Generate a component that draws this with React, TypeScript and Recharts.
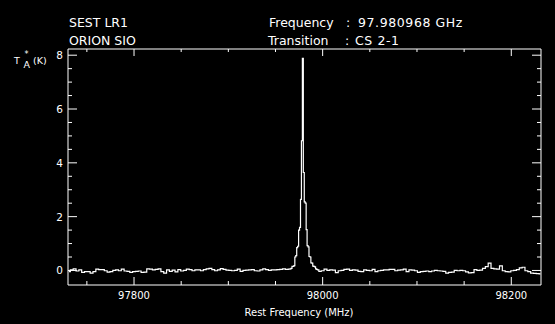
import { Line, LineChart, XAxis, YAxis } from "recharts"

// channel layout: coarse baseline either side, 1 MHz channels across the line
const leftStart = 97731
const coreStart = 97966
const rightStart = 97997
const baseWidth = 3
const coreWidth = 1

// antenna temperature (K)
const leftBaseline = [
  -0.04, 0.02, 0.06, -0.02, 0.02, -0.07, -0.04, -0.04, -0.1, -0.04,
  0.05, 0.03, 0.03, -0.01, -0.06, -0.04, 0.0, 0.02, -0.01, 0.05,
  -0.02, -0.03, -0.07, -0.04, -0.03, -0.02, -0.07, -0.06, 0.06, 0.05,
  0.02, 0.04, 0.06, -0.04, -0.1, 0.02, -0.03, 0.01, -0.05, 0.03,
  -0.02, 0.0, 0.05, 0.03, -0.01, 0.02, 0.02, -0.01, 0.03, 0.06,
  0.08, 0.03, -0.01, 0.02, 0.07, 0.04, 0.01, 0.0, -0.01, 0.0,
  0.05, -0.03, 0.0, 0.01, 0.02, 0.03, -0.01, -0.02, 0.02, 0.06,
  0.03, 0.0, 0.02, 0.02, 0.03, 0.04, 0.06, 0.04, 0.05,
]

const lineCore = [
  0.06, 0.08, 0.15, 0.15, 0.18, 0.5, 0.55, 0.85, 0.9, 1.5,
  1.6, 2.64, 4.82, 7.88, 3.64, 2.55, 2.5, 1.52, 0.92, 0.88,
  0.52, 0.5, 0.28, 0.27, 0.16, 0.15, 0.13, 0.06, 0.04, 0.02,
]

const rightBaseline = [
  -0.03, -0.01, 0.05, 0.0, 0.02, 0.01, -0.08, -0.01, 0.0, 0.04,
  0.05, 0.0, 0.02, 0.01, -0.03, -0.04, 0.02, 0.0, -0.01, 0.04,
  -0.04, -0.01, 0.0, 0.02, 0.02, 0.04, 0.04, -0.01, 0.01, 0.02,
  0.05, -0.04, 0.02, 0.01, -0.01, -0.07, -0.04, -0.03, -0.02, -0.04,
  -0.02, 0.0, -0.01, -0.02, -0.03, -0.1, -0.07, -0.06, 0.0, -0.01,
  0.0, -0.01, -0.05, -0.09, -0.08, 0.03, 0.0, 0.01, 0.08, 0.14,
  0.27, 0.08, 0.06, 0.05, 0.17, -0.01, -0.04, -0.05, -0.01, 0.0,
  0.03, 0.1, 0.12, -0.01, -0.04, -0.1, -0.11, -0.12, -0.13,
]

const xTicks = [97750, 97800, 97850, 97900, 97950, 98000, 98050, 98100, 98150, 98200]
const xLabelled = [97800, 98000, 98200]
const yTicks = [0, 0.5, 1, 1.5, 2, 2.5, 3, 3.5, 4, 4.5, 5, 5.5, 6, 6.5, 7, 7.5, 8]
const yLabelled = [0, 2, 4, 6, 8]

const data = [
  ...leftBaseline.map((t, i) => ({ freq: leftStart + i * baseWidth, temp: t })),
  ...lineCore.map((t, i) => ({ freq: coreStart + i * coreWidth, temp: t })),
  ...rightBaseline.map((t, i) => ({ freq: rightStart + i * baseWidth, temp: t })),
]

const white = "#ffffff"
const font = "DejaVu Sans"

function BottomTick(props: any) {
  const { x, y, payload } = props
  const major = xLabelled.includes(payload.value)
  return (
    <g>
      <line x1={x} x2={x} y1={y} y2={y - (major ? 8 : 4)} stroke={white} />
      {major && (
        <text x={x} y={y + 14} textAnchor="middle" fill={white} fontSize={10} fontFamily={font}>
          {payload.value}
        </text>
      )}
    </g>
  )
}

function TopTick(props: any) {
  const { x, y, payload } = props
  const major = xLabelled.includes(payload.value)
  return <line x1={x} x2={x} y1={y} y2={y + (major ? 7 : 3)} stroke={white} />
}

function LeftTick(props: any) {
  const { x, y, payload } = props
  const major = yLabelled.includes(payload.value)
  return (
    <g>
      <line x1={x} x2={x + (major ? 9 : 4)} y1={y} y2={y} stroke={white} />
      {major && (
        <text x={x - 5} y={y + 4} textAnchor="end" fill={white} fontSize={10.5} fontFamily={font}>
          {payload.value}
        </text>
      )}
    </g>
  )
}

function RightTick(props: any) {
  const { x, y, payload } = props
  const major = yLabelled.includes(payload.value)
  return <line x1={x} x2={x - (major ? 9 : 4)} y1={y} y2={y} stroke={white} />
}

export default function App() {
  return (
    <div style={{ position: "absolute", left: 0, top: 0, width: 555, height: 324, background: "#000" }}>
      <LineChart
        width={555}
        height={324}
        data={data}
        margin={{ top: 48, right: 13, bottom: 38, left: 67 }}
      >
        <XAxis
          xAxisId="b"
          dataKey="freq"
          type="number"
          domain={[97730, 98231.5]}
          allowDataOverflow
          ticks={xTicks}
          interval={0}
          height={1}
          tickSize={0}
          tickMargin={0}
          tickLine={false}
          axisLine={{ stroke: white }}
          tick={<BottomTick />}
        />
        <XAxis
          xAxisId="t"
          orientation="top"
          dataKey="freq"
          type="number"
          domain={[97730, 98231.5]}
          allowDataOverflow
          ticks={xTicks}
          interval={0}
          height={1}
          tickSize={0}
          tickMargin={0}
          tickLine={false}
          axisLine={{ stroke: white }}
          tick={<TopTick />}
        />
        <YAxis
          yAxisId="l"
          type="number"
          domain={[-0.54, 8.23]}
          allowDataOverflow
          ticks={yTicks}
          interval={0}
          width={1}
          tickSize={0}
          tickMargin={0}
          tickLine={false}
          axisLine={{ stroke: white }}
          tick={<LeftTick />}
        />
        <YAxis
          yAxisId="r"
          orientation="right"
          type="number"
          domain={[-0.54, 8.23]}
          allowDataOverflow
          ticks={yTicks}
          interval={0}
          width={1}
          tickSize={0}
          tickMargin={0}
          tickLine={false}
          axisLine={{ stroke: white }}
          tick={<RightTick />}
        />
        <Line
          xAxisId="b"
          yAxisId="l"
          dataKey="temp"
          type="step"
          stroke={white}
          strokeWidth={1.2}
          dot={false}
          activeDot={false}
          isAnimationActive={false}
        />
      </LineChart>
      <svg
        width={555}
        height={324}
        style={{ position: "absolute", left: 0, top: 0, pointerEvents: "none" }}
        fontFamily={font}
        fill={white}
      >
        <text x={69} y={26.5} fontSize={12.5}>SEST LR1</text>
        <text x={69} y={44.5} fontSize={12.5}>ORION SIO</text>
        <text x={269} y={26.5} fontSize={12.5}>Frequency</text>
        <text x={346} y={26.5} fontSize={12.5}>:</text>
        <text x={358} y={26.5} fontSize={12.5} letterSpacing={0.6}>97.980968 GHz</text>
        <text x={268} y={44.5} fontSize={12.5}>Transition</text>
        <text x={345} y={44.5} fontSize={12.5}>:</text>
        <text x={355} y={44.5} fontSize={12.5} letterSpacing={0.6}>CS 2-1</text>
        <text x={14} y={64} fontSize={9.5}>T</text>
        <text x={23.5} y={68} fontSize={9.5}>A</text>
        <text x={24.5} y={57} fontSize={8}>*</text>
        <text x={33} y={64} fontSize={9.5}>(K)</text>
        <text x={299} y={316} fontSize={10} textAnchor="middle">Rest Frequency (MHz)</text>
      </svg>
    </div>
  )
}
